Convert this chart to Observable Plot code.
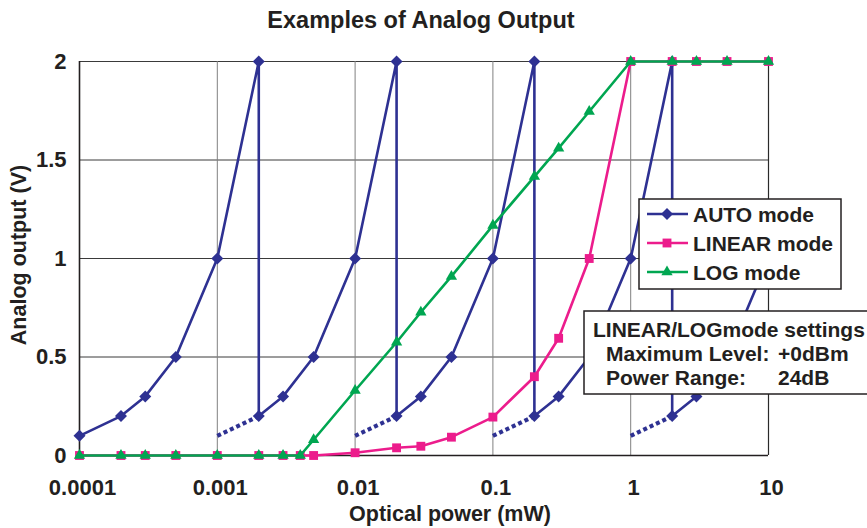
<!DOCTYPE html>
<html><head><meta charset="utf-8">
<script src="https://cdn.jsdelivr.net/npm/d3@7"></script>
<script src="https://cdn.jsdelivr.net/npm/@observablehq/plot@0.6"></script>
<style>
body{margin:0;background:#fff;}
#chart svg{display:block;}
</style>
</head><body><div id="chart"></div>
<script>
// ---- data ----
const title = "Examples of Analog Output";
const xLabel = "Optical power (mW)";
const yLabel = "Analog output (V)";
const xTicks = [0.0001, 0.001, 0.01, 0.1, 1, 10];
const xTickLabels = ["0.0001", "0.001", "0.01", "0.1", "1", "10"];
const yTicks = [0, 0.5, 1, 1.5, 2];
const yTickLabels = ["0", "0.5", "1", "1.5", "2"];

// AUTO mode (range switches produce vertical drops)
const autoPower  = [0.0001, 0.0002, 0.0003, 0.0005, 0.001, 0.002,
                    0.002, 0.003, 0.005, 0.01, 0.02,
                    0.02, 0.03, 0.05, 0.1, 0.2,
                    0.2, 0.3, 0.5, 1, 2,
                    2, 3, 5, 10];
const autoOutput = [0.1, 0.2, 0.3, 0.5, 1, 2,
                    0.2, 0.3, 0.5, 1, 2,
                    0.2, 0.3, 0.5, 1, 2,
                    0.2, 0.3, 0.5, 1, 2,
                    0.2, 0.3, 0.5, 1];
// dotted lower-range continuation of AUTO mode
const autoSwitchFrom = [0.001, 0.01, 0.1, 1];
const autoSwitchTo   = [0.002, 0.02, 0.2, 2];
const autoSwitchOutput = [0.1, 0.2];

const modePower  = [0.0001, 0.0002, 0.0003, 0.0005, 0.001, 0.002, 0.003, 0.004, 0.005,
                    0.01, 0.02, 0.03, 0.05, 0.1, 0.2, 0.3, 0.5, 1, 2, 3, 5, 10];
const linearOutput = [0, 0, 0, 0, 0, 0, 0, 0, 0,
                      0.014, 0.039, 0.047, 0.093, 0.195, 0.40, 0.595, 1.0, 2, 2, 2, 2, 2];
const logOutput    = [0, 0, 0, 0, 0, 0, 0, 0, 0.08,
                      0.33, 0.575, 0.727, 0.909, 1.168, 1.416, 1.56, 1.746, 2, 2, 2, 2, 2];

const seriesNames = ["AUTO mode", "LINEAR mode", "LOG mode"];
const settingsLines = ["LINEAR/LOGmode settings", "Maximum Level:", "Power Range:"];
const settingsValues = ["", "+0dBm", "24dB"];

// ---- styles ----
const navy = "#2e3192", pink = "#ec1c8c", green = "#00a651", ink = "#231f20";
const font = "'Liberation Sans', Arial, Helvetica, sans-serif";

const autoData = autoPower.map((p, i) => ({p, v: autoOutput[i]}));
const dotted = autoSwitchFrom.flatMap((f, i) => [
  {seg: i, p: f, v: autoSwitchOutput[0]},
  {seg: i, p: autoSwitchTo[i], v: autoSwitchOutput[1]}
]);
const linData = modePower.map((p, i) => ({p, v: linearOutput[i]}));
const logData = modePower.map((p, i) => ({p, v: logOutput[i]}));

const W = 867, H = 528, ML = 79, MR = 99, MT = 61, MB = 73;

const plot = Plot.plot({
  width: W, height: H,
  marginLeft: ML, marginRight: MR, marginTop: MT, marginBottom: MB,
  style: {fontFamily: font, fontSize: "22px", fontWeight: "bold", color: ink, background: "#fff", overflow: "visible"},
  x: {type: "log", domain: [0.0001, 10]},
  y: {domain: [0, 2]},
  marks: [
    Plot.gridY(yTicks.slice(1), {stroke: "#3a3a3a", strokeOpacity: 1, strokeWidth: 1}),
    Plot.gridX(xTicks.slice(1, -1), {stroke: "#808080", strokeOpacity: 1, strokeWidth: 1}),
    Plot.ruleX([xTicks[xTicks.length - 1]], {stroke: "#2a2a2a", strokeWidth: 1.2}),
    Plot.ruleX([xTicks[0]], {stroke: ink, strokeWidth: 1.6}),
    Plot.ruleY([0], {stroke: ink, strokeWidth: 1.6}),
    Plot.axisX(xTicks, {tickSize: 0, tickPadding: 24, dx: 3, label: null,
      tickFormat: d => xTickLabels[xTicks.indexOf(d)], fill: ink}),
    Plot.axisY(yTicks, {tickSize: 0, tickPadding: 13, label: null,
      tickFormat: d => yTickLabels[yTicks.indexOf(d)], fill: ink}),
    // AUTO
    Plot.line(dotted, {x: "p", y: "v", z: "seg", stroke: navy, strokeWidth: 4.2,
      strokeDasharray: "4 3", strokeLinecap: "butt"}),
    Plot.line(autoData, {x: "p", y: "v", stroke: navy, strokeWidth: 2.6}),
    Plot.dot(autoData, {x: "p", y: "v", symbol: "diamond2", r: 5.4, fill: navy, stroke: "none"}),
    // LINEAR
    Plot.line(linData, {x: "p", y: "v", stroke: pink, strokeWidth: 2.6}),
    Plot.dot(linData, {x: "p", y: "v", symbol: "square", r: 5, fill: pink, stroke: "none"}),
    // LOG
    Plot.line(logData, {x: "p", y: "v", stroke: green, strokeWidth: 2.6}),
    Plot.dot(logData, {x: "p", y: "v", symbol: "triangle", r: 4.2, fill: green, stroke: "none"})
  ]
});

document.getElementById("chart").appendChild(plot);
const svg = d3.select(plot);

const txt = (x, y, s, size, anchor = "start") => svg.append("text")
  .attr("x", x).attr("y", y).attr("text-anchor", anchor)
  .attr("font-family", font).attr("font-weight", "bold").attr("font-size", size)
  .attr("fill", ink).text(s);

// title & axis titles
txt(421, 28, title, 23.5, "middle");
txt(450, 521, xLabel, 21.5, "middle");
txt(0, 0, yLabel, 21.5, "middle").attr("transform", "translate(26,255) rotate(-90)");

// legend
const lg = svg.append("g");
lg.append("rect").attr("x", 639).attr("y", 199).attr("width", 202).attr("height", 90)
  .attr("fill", "#fff").attr("stroke", ink).attr("stroke-width", 1.5);
const legColors = [navy, pink, green];
const legSymbols = [d3.symbolDiamond2, d3.symbolSquare, d3.symbolTriangle];
const legSizes = [Math.PI * 5.4 * 5.4, Math.PI * 25, Math.PI * 4.2 * 4.2];
seriesNames.forEach((name, i) => {
  const cy = 214 + i * 29;
  lg.append("line").attr("x1", 647).attr("x2", 688).attr("y1", cy).attr("y2", cy)
    .attr("stroke", legColors[i]).attr("stroke-width", 2.6);
  lg.append("path").attr("d", d3.symbol(legSymbols[i], legSizes[i])())
    .attr("transform", `translate(667,${cy})`).attr("fill", legColors[i]);
  txt(693, cy + 7.5, name, 21).attr("fill", ink);
});

// settings box
const sb = svg.append("g");
sb.append("rect").attr("x", 584).attr("y", 311).attr("width", 290).attr("height", 83)
  .attr("fill", "#fff").attr("stroke", ink).attr("stroke-width", 1.5);
txt(593, 337, settingsLines[0], 21);
txt(606, 361, settingsLines[1], 21);
txt(606, 385, settingsLines[2], 21);
txt(778, 361, settingsValues[1], 21);
txt(778, 385, settingsValues[2], 21);
</script>
</body></html>
